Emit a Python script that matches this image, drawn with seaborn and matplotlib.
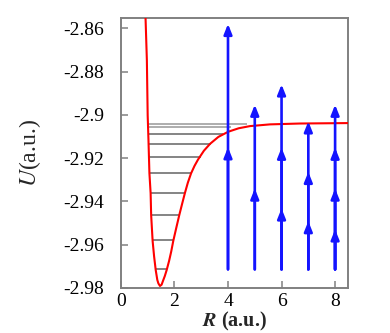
import numpy as np
import pandas as pd
import matplotlib
matplotlib.use("Agg")
import matplotlib.pyplot as plt
import seaborn as sns

# ---- data ----
curve_R = [0.92, 0.97, 1.00, 1.03, 1.065, 1.11, 1.13, 1.185, 1.24, 1.30, 1.36, 1.40,
           1.46, 1.52, 1.57, 1.64, 1.71, 1.80, 1.88, 1.955, 2.07, 2.18, 2.29, 2.39,
           2.50, 2.62, 2.75, 2.88, 3.10, 3.33, 3.64, 4.01, 4.40, 4.82, 5.57, 6.69, 8.47]
curve_U = [-2.855, -2.8748, -2.9002, -2.9118, -2.927, -2.9362, -2.9464, -2.9584, -2.9655,
           -2.9718, -2.9764, -2.9780, -2.9792, -2.9786, -2.9769, -2.9746, -2.9718, -2.9676,
           -2.9632, -2.9584, -2.9522, -2.9464, -2.9410, -2.9362, -2.9314, -2.9271, -2.9236,
           -2.9207, -2.9166, -2.9134, -2.9102, -2.9078, -2.9062, -2.9052, -2.9044, -2.9040,
           -2.9038]

level_U = [-2.9042, -2.9056, -2.9088, -2.9133, -2.9193, -2.9268, -2.9360, -2.9462, -2.9581, -2.9715]
level_Rmin = [1.01, 1.01, 1.01, 1.02, 1.02, 1.08, 1.11, 1.13, 1.19, 1.30]
level_Rmax = [4.70, 4.10, 3.82, 3.36, 2.98, 2.63, 2.39, 2.18, 1.96, 1.71]

arrow_R = [4, 5, 6, 7, 8]
arrow_base = -2.9715
arrow_heads = [
    [-2.8579, -2.9150],
    [-2.8953, -2.9341],
    [-2.8859, -2.9152, -2.9433],
    [-2.9030, -2.9264, -2.9492],
    [-2.8953, -2.9152, -2.9341, -2.9530],
]

x_ticks = [0, 2, 4, 6, 8]
y_ticks = [-2.86, -2.88, -2.90, -2.92, -2.94, -2.96, -2.98]
y_ticklabels = ["-2.86", "-2.88", "-2.9", "-2.92", "-2.94", "-2.96", "-2.98"]

# ---- style ----
sns.set_style("ticks")
plt.rcParams["font.family"] = ["Liberation Serif", "DejaVu Serif"]
plt.rcParams["mathtext.fontset"] = "stix"

fig = plt.figure(figsize=(3.9, 3.33), dpi=100)
ax = fig.add_axes([0.310, 0.136, 0.5815, 0.811])

# levels
for i, (u, r0, r1) in enumerate(zip(level_U, level_Rmin, level_Rmax)):
    col = "#a0a0a0" if i < 2 else "#707070"
    ax.hlines(u, r0, r1, color=col, lw=1.2, zorder=1)

# potential curve
df = pd.DataFrame({"R": curve_R, "U": curve_U})
sns.lineplot(data=df, x="R", y="U", color="#ff0000", lw=1.5, ax=ax, zorder=3,
             sort=False, estimator=None)

# arrows
for xr, heads in zip(arrow_R, arrow_heads):
    for h in heads:
        ax.annotate("", xy=(xr, h), xytext=(xr, arrow_base),
                    arrowprops=dict(arrowstyle="-|>,head_length=0.6,head_width=0.24",
                                    color="#1414ff", lw=1.9, shrinkA=0, shrinkB=0,
                                    mutation_scale=10),
                    zorder=4)

ax.set_xlim(0, 8.47)
ax.set_ylim(-2.98, -2.855)
ax.set_xticks(x_ticks)
ax.set_xticklabels([str(t) for t in x_ticks])
ax.set_yticks(y_ticks)
ax.set_yticklabels(y_ticklabels)

for s in ax.spines.values():
    s.set_color("#808080")
    s.set_linewidth(1.4)
ax.tick_params(direction="in", length=5, width=1.1, color="#808080",
               labelsize=14, labelcolor="black")
ax.tick_params(axis="y", pad=12)
ax.tick_params(axis="x", pad=4)

ax.set_xlabel(r"$\mathbfit{R}$ (a.u.)", fontsize=14.5, fontweight="bold", labelpad=0)
ax.set_ylabel(r"$U$(a.u.)", fontsize=17, labelpad=15)

fig.savefig("out.png", dpi=100)
